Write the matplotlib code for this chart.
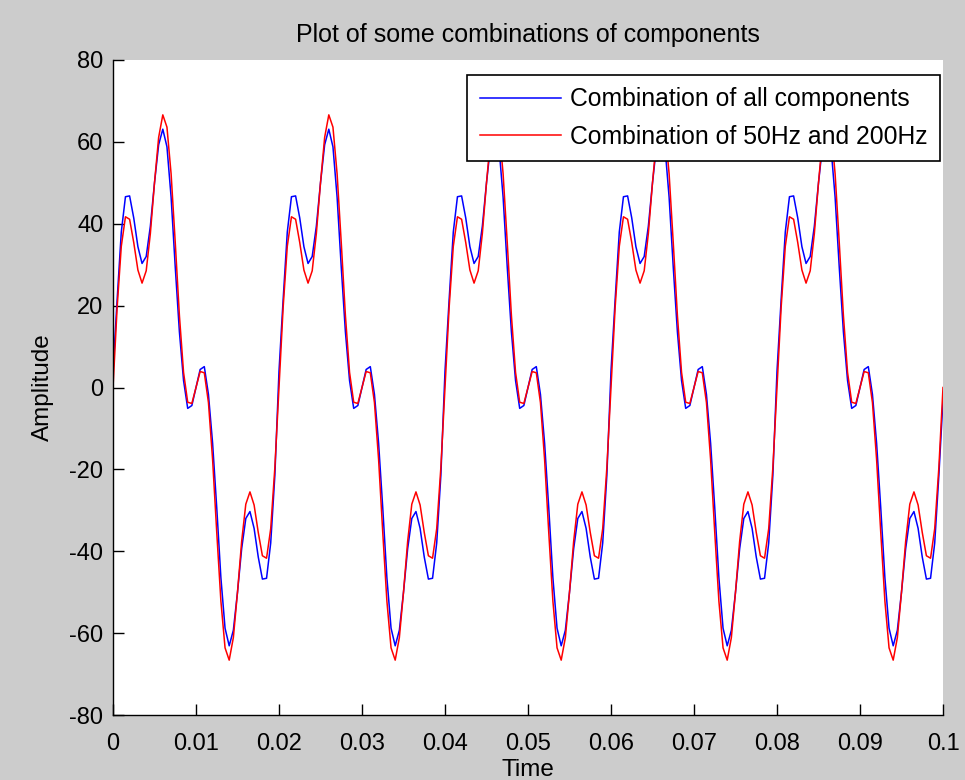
import numpy as np
import matplotlib
matplotlib.use("Agg")
import matplotlib.pyplot as plt

plt.rcParams["font.family"] = ["Liberation Sans", "DejaVu Sans"]
plt.rcParams["axes.unicode_minus"] = False

# one 20 ms period, read every 0.5 ms (the signal repeats five times over 0..0.1 s)
period_times = [0.0000, 0.0005, 0.0010, 0.0015, 0.0020, 0.0025, 0.0030, 0.0035,
                0.0040, 0.0045, 0.0050, 0.0055, 0.0060, 0.0065, 0.0070, 0.0075,
                0.0080, 0.0085, 0.0090, 0.0095, 0.0100, 0.0105, 0.0110, 0.0115,
                0.0120, 0.0125, 0.0130, 0.0135, 0.0140, 0.0145, 0.0150, 0.0155,
                0.0160, 0.0165, 0.0170, 0.0175, 0.0180, 0.0185, 0.0190, 0.0195]

all_components = [4.0, 21.5, 38.0, 46.6, 46.8, 41.4, 34.4, 30.3,
                  32.0, 39.4, 50.0, 59.3, 63.1, 58.8, 46.5, 29.4,
                  13.6, 1.7, -5.1, -4.4, 0.0, 4.4, 5.1, -1.7,
                  -13.6, -29.4, -46.5, -58.8, -63.1, -59.3, -50.0, -39.4,
                  -32.0, -30.3, -34.4, -41.4, -46.8, -46.6, -38.0, -21.5]

hz50_and_200 = [0.0, 19.6, 34.5, 41.7, 41.1, 35.4, 28.7, 25.5,
                28.5, 37.6, 50.0, 61.1, 66.6, 63.6, 52.2, 35.4,
                17.6, 3.7, -3.6, -3.9, 0.0, 3.9, 3.6, -3.7,
                -17.6, -35.4, -52.2, -63.6, -66.6, -61.1, -50.0, -37.6,
                -28.5, -25.5, -28.7, -35.4, -41.1, -41.7, -34.5, -19.6]

n_periods = 5
period = 0.02
end_time = 0.1
end_all, end_50_200 = -3.0, 0.0

t = np.concatenate([np.array(period_times) + k * period for k in range(n_periods)] + [[end_time]])
y_all = np.concatenate([np.tile(all_components, n_periods), [end_all]])
y_red = np.concatenate([np.tile(hz50_and_200, n_periods), [end_50_200]])

xticks = [0, 0.01, 0.02, 0.03, 0.04, 0.05, 0.06, 0.07, 0.08, 0.09, 0.1]
xtick_labels = ["0", "0.01", "0.02", "0.03", "0.04", "0.05", "0.06", "0.07", "0.08", "0.09", "0.1"]
yticks = [-80, -60, -40, -20, 0, 20, 40, 60, 80]

fig = plt.figure(figsize=(9.65, 7.8), dpi=100, facecolor="#cccccc")
ax = fig.add_axes([113 / 965, 1 - 715 / 780, 830 / 965, 655 / 780])

ax.plot(t, y_all, color="#0000ff", linewidth=1.1, label="Combination of all components")
ax.plot(t, y_red, color="#ff0000", linewidth=1.1, label="Combination of 50Hz and 200Hz")

ax.set_xlim(0, 0.1)
ax.set_ylim(-80, 80)
ax.set_xticks(xticks)
ax.set_xticklabels(xtick_labels)
ax.set_yticks(yticks)
ax.tick_params(direction="in", length=8, width=1, labelsize=17)
ax.tick_params(axis="x", pad=13)
ax.tick_params(axis="y", pad=7)
for side in ("top", "right"):
    ax.spines[side].set_visible(False)
for side in ("left", "bottom"):
    ax.spines[side].set_linewidth(1)

ax.set_title("Plot of some combinations of components", fontsize=18, pad=13)
ax.set_xlabel("Time", fontsize=17.5, labelpad=3)
ax.set_ylabel("Amplitude", fontsize=17.5, labelpad=11)

leg = ax.legend(loc="upper right", bbox_to_anchor=(0.9964, 0.977), borderaxespad=0,
                fontsize=17.8, fancybox=False, framealpha=1, edgecolor="black",
                handlelength=3.3, handletextpad=0.35, borderpad=0.5,
                labelspacing=0.55)
leg.get_frame().set_linewidth(1.2)

fig.savefig("out.png", dpi=100, facecolor=fig.get_facecolor())
